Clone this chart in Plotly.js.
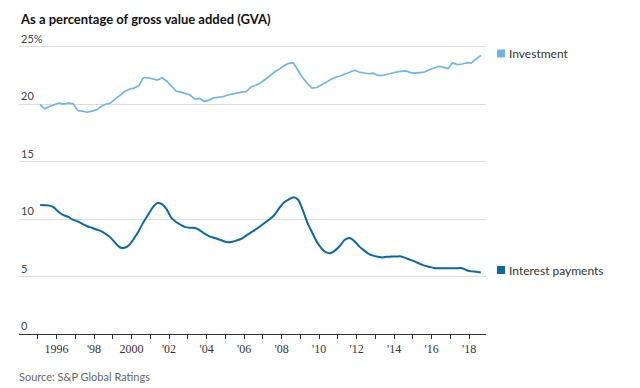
<!DOCTYPE html>
<html>
<head>
<meta charset="utf-8">
<script src="https://cdn.plot.ly/plotly-3.0.1.min.js"></script>
<style>
html,body{margin:0;padding:0;background:#fff;}
#chart{width:640px;height:388px;}
</style>
</head>
<body>
<div id="chart"></div>
<script>
// Quarterly observations, 1995 Q1 to 2018 Q3 (plotted at quarter midpoints)
const startYear = 1995;
const investment = [
  19.95, 19.6, 19.8, 19.95,
  20.1, 20.0, 20.1, 20.05,
  19.45, 19.4, 19.3, 19.4,
  19.5, 19.8, 20.0, 20.1,
  20.45, 20.8, 21.1, 21.3,
  21.4, 21.6, 22.3, 22.3,
  22.2, 22.1, 22.3, 22.0,
  21.6, 21.15, 21.05, 20.95,
  20.8, 20.45, 20.5, 20.25,
  20.35, 20.55, 20.6, 20.65,
  20.8, 20.9, 21.0, 21.05,
  21.1, 21.5, 21.65, 21.85,
  22.15, 22.5, 22.8, 23.05,
  23.35, 23.55, 23.6, 22.95,
  22.3, 21.8, 21.4, 21.45,
  21.65, 21.9, 22.15, 22.35,
  22.45, 22.6, 22.8, 22.95,
  22.8, 22.7, 22.65, 22.7,
  22.5, 22.5, 22.6, 22.75,
  22.8, 22.85, 22.9, 22.75,
  22.7, 22.75, 22.8, 23.0,
  23.15, 23.3, 23.2, 23.1,
  23.6, 23.45, 23.5, 23.6,
  23.6, 23.9, 24.25
];
const interestPayments = [
  11.23, 11.2, 11.17, 11.0,
  10.6, 10.35, 10.2, 9.95,
  9.8, 9.58, 9.38, 9.25,
  9.1, 8.95, 8.7, 8.4,
  7.95, 7.55, 7.5, 7.75,
  8.3, 8.95, 9.7, 10.35,
  11.0, 11.4, 11.3, 10.85,
  10.1, 9.75, 9.5, 9.3,
  9.25, 9.22, 9.05, 8.75,
  8.52, 8.38, 8.25, 8.1,
  7.98, 8.02, 8.15, 8.3,
  8.58, 8.85, 9.1, 9.4,
  9.7, 10.0, 10.38, 10.95,
  11.45, 11.7, 11.9, 11.7,
  10.8, 9.7, 8.85, 8.05,
  7.45, 7.1, 7.05, 7.3,
  7.7, 8.2, 8.35, 8.1,
  7.65, 7.3, 7.0, 6.82,
  6.72, 6.66, 6.72, 6.75,
  6.75, 6.75, 6.6, 6.45,
  6.3, 6.1, 5.95, 5.85,
  5.75, 5.73, 5.73, 5.73,
  5.73, 5.73, 5.73, 5.55,
  5.45, 5.42, 5.35
];
const tickYears = [1995,1996,1997,1998,1999,2000,2001,2002,2003,2004,2005,2006,2007,2008,2009,2010,2011,2012,2013,2014,2015,2016,2017,2018];
const tickYearLabels = ["","1996","","'98","","2000","","'02","","'04","","'06","","'08","","'10","","'12","","'14","","'16","","'18"];
const yTickVals = [0,5,10,15,20,25];
const yTickLabels = ["0","5","10","15","20","25%"];
const seriesNames = ["Investment","Interest payments"];
const seriesColors = ["#6fb6e6","#0a69a3"];

const quarters = investment.map((_, i) => startYear + 0.125 + i * 0.25);

const font = "Lato, 'Noto Sans', sans-serif";
const serif = "'Liberation Serif', 'DejaVu Serif', serif";

const traces = [
  {x: quarters, y: investment, type: "scatter", mode: "lines", name: seriesNames[0],
   line: {color: seriesColors[0], width: 1.7}, showlegend: false, hoverinfo: "skip"},
  {x: quarters, y: interestPayments, type: "scatter", mode: "lines", name: seriesNames[1],
   line: {color: seriesColors[1], width: 2, shape: "spline", smoothing: 0.8}, showlegend: false, hoverinfo: "skip"}
];

// pixel helpers for layout placement (plot area: x 19..486, y 41..334)
const L = 19, R = 486, T = 41, B = 334;
const px = v => (v - L) / (R - L);
const py = v => (B - v) / (B - T);

const yLabelAnns = yTickVals.map((v, i) => ({
  text: yTickLabels[i], xref: "paper", yref: "y", x: 0, y: v,
  xanchor: "left", yanchor: "bottom", showarrow: false,
  font: {family: font, size: 11, color: "#444"}
}));

const layout = {
  width: 640, height: 388,
  margin: {l: L, r: 640 - R, t: T, b: 388 - B, pad: 0},
  paper_bgcolor: "#fff", plot_bgcolor: "#fff",
  font: {family: font, size: 11, color: "#333"},
  showlegend: false,
  xaxis: {
    range: [1994.0, 2018.9],
    tickmode: "array", tickvals: tickYears, ticktext: tickYearLabels,
    ticks: "outside", ticklen: 4, tickwidth: 1, tickcolor: "#333",
    showline: true, linecolor: "#333", linewidth: 1,
    showgrid: false, zeroline: false,
    tickfont: {family: serif, size: 12, color: "#333"}
  },
  yaxis: {
    range: [0, 25.5],
    tickmode: "array", tickvals: yTickVals,
    ticks: "", showline: false, showticklabels: false,
    showgrid: true, gridcolor: "#dcdcdc", gridwidth: 1,
    zeroline: false
  },
  annotations: [
    {text: "<b>As a percentage of gross value added (GVA)</b>", xref: "paper", yref: "paper",
     x: px(18), y: py(19), xanchor: "left", yanchor: "middle", showarrow: false,
     font: {family: font, size: 13, color: "#111"}},
    {text: "Source: S&P Global Ratings", xref: "paper", yref: "paper",
     x: px(17), y: py(376), xanchor: "left", yanchor: "middle", showarrow: false,
     font: {family: font, size: 11, color: "#666"}},
    {text: seriesNames[0], xref: "paper", yref: "paper",
     x: px(507), y: py(53), xanchor: "left", yanchor: "middle", showarrow: false,
     font: {family: font, size: 12, color: "#333"}},
    {text: seriesNames[1], xref: "paper", yref: "paper",
     x: px(507), y: py(270), xanchor: "left", yanchor: "middle", showarrow: false,
     font: {family: font, size: 12, color: "#333"}}
  ].concat(yLabelAnns),
  shapes: [
    {type: "rect", xref: "paper", yref: "paper", x0: px(497), x1: px(505), y0: py(57.5), y1: py(49.5),
     fillcolor: seriesColors[0], line: {width: 0}},
    {type: "rect", xref: "paper", yref: "paper", x0: px(497), x1: px(505), y0: py(274), y1: py(266),
     fillcolor: seriesColors[1], line: {width: 0}}
  ]
};

Plotly.newPlot("chart", traces, layout, {staticPlot: true, displayModeBar: false});
</script>
</body>
</html>
